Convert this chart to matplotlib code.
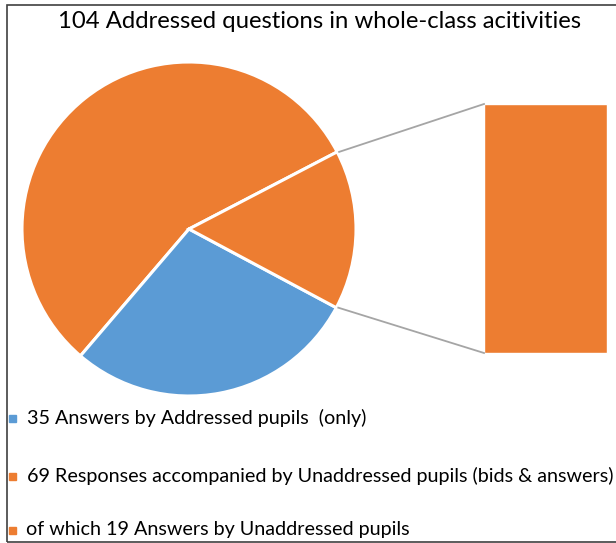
import numpy as np
import matplotlib.pyplot as plt
from matplotlib.patches import Rectangle

plt.rcParams['font.family'] = ['Lato', 'DejaVu Sans']

title = '104 Addressed questions in whole-class acitivities'
pie_values = [69, 35, 19]          # big orange, blue, split-off part
pie_colors = ['#ED7D31', '#5B9BD5', '#ED7D31']
bar_value = 19
legend_labels = ['35 Answers by Addressed pupils  (only)',
                 '69 Responses accompanied by Unaddressed pupils (bids & answers)',
                 'of which 19 Answers by Unaddressed pupils']
legend_colors = ['#5B9BD5', '#ED7D31', '#ED7D31']

W, H = 616, 543
fig = plt.figure(figsize=(W / 100, H / 100), dpi=100)
ax = fig.add_axes([0, 0, 1, 1])

# pie, in pixel coordinates (y up)
cx, cy, r = 189, H - 229, 167
wedges, _ = ax.pie(pie_values, colors=pie_colors, startangle=27.5,
                   center=(cx, cy), radius=r, frame=True,
                   wedgeprops=dict(edgecolor='white', linewidth=2.2))
ax.set_xlim(0, W)
ax.set_ylim(0, H)
ax.set_aspect('auto')
ax.axis('off')

# secondary bar
bar_left, bar_right = 484, 607
bar_bottom, bar_top = H - 353, H - 104
scale = (bar_top - bar_bottom) / bar_value
ax.bar((bar_left + bar_right) / 2, bar_value * scale, width=bar_right - bar_left,
       bottom=bar_bottom, color='#ED7D31', edgecolor='white', linewidth=1)

# connector lines from the split wedge to the bar
w = wedges[2]
for ang, by in [(w.theta2, bar_top), (w.theta1, bar_bottom)]:
    px = cx + r * np.cos(np.radians(ang))
    py = cy + r * np.sin(np.radians(ang))
    ax.plot([px + 2, bar_left], [py, by], color='#A5A5A5', linewidth=1.3)

# title
fig.text(320 / W, 1 - 22 / H, title, ha='center', va='center', fontsize=17.2)

# legend
leg_y = [418, 476, 530]
leg_tx = [27, 27, 26]
for y, tx, lab, col in zip(leg_y, leg_tx, legend_labels, legend_colors):
    ax.add_patch(Rectangle((9, H - y - 4), 7, 7, color=col))
    ax.text(tx, H - y, lab, ha='left', va='center', fontsize=14.2, clip_on=False)

# chart frame
ax.add_patch(Rectangle((7, 1), W + 10, H - 6, fill=False, edgecolor='#404040',
                       linewidth=1.2, clip_on=False))

fig.savefig('out.png', dpi=100)
